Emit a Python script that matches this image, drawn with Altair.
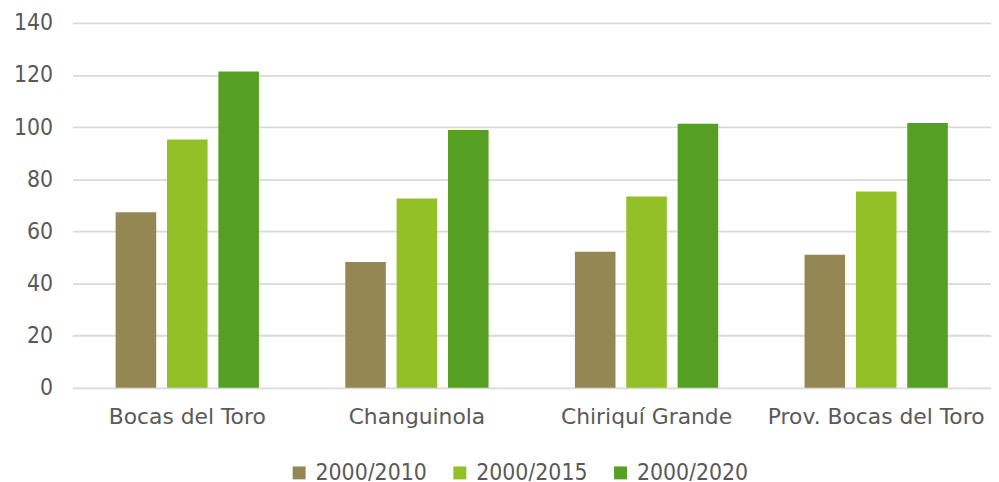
import altair as alt
import pandas as pd

categories = ["Bocas del Toro", "Changuinola", "Chiriquí Grande", "Prov. Bocas del Toro"]
series = ["2000/2010", "2000/2015", "2000/2020"]
v2010 = [67.3, 48.3, 52.2, 51.0]
v2015 = [95.2, 72.6, 73.4, 75.3]
v2020 = [121.3, 98.9, 101.3, 101.6]
colors = ["#938854", "#92C026", "#55A023"]

rows = []
for s, vals in zip(series, [v2010, v2015, v2020]):
    for c, v in zip(categories, vals):
        rows.append({"cat": c, "serie": s, "val": v})
df = pd.DataFrame(rows)

FONT = "DejaVu Sans Condensed, DejaVu Sans"
TXT = "#595959"
FS = 23

chart = alt.Chart(df).mark_bar().encode(
    x=alt.X("cat:N", sort=categories, title=None,
            scale=alt.Scale(paddingInner=0.376, paddingOuter=0.188),
            axis=alt.Axis(labelAngle=0, labelFontSize=22, labelColor=TXT, labelFont="DejaVu Sans",
                          labelPadding=19, labelLimit=0, ticks=False, domain=False, grid=False)),
    xOffset=alt.XOffset("serie:N", sort=series,
                        scale=alt.Scale(paddingInner=0.21, paddingOuter=0)),
    y=alt.Y("val:Q", title=None,
            scale=alt.Scale(domain=[0, 140], nice=False),
            axis=alt.Axis(values=[0, 20, 40, 60, 80, 100, 120, 140], labelFontSize=FS,
                          labelColor=TXT, labelFont=FONT, labelPadding=20,
                          ticks=False, domain=False, gridColor="#d9d9d9", gridWidth=1.8)),
    color=alt.Color("serie:N", sort=series, title=None,
                    scale=alt.Scale(domain=series, range=colors),
                    legend=alt.Legend(orient="none", direction="horizontal",
                                      legendX=217, legendY=442, symbolType="square",
                                      symbolSize=170, symbolStrokeWidth=0, labelFontSize=FS,
                                      labelColor=TXT, labelFont=FONT, labelOffset=5,
                                      labelLimit=0, columnPadding=21, padding=0)),
).properties(
    width=926, height=368,
    autosize=alt.AutoSizeParams(type="none"),
    padding={"left": 65, "top": 13, "right": 0, "bottom": 92},
).configure_view(stroke=None)

chart.save("out.html", embed_options={"renderer": "svg", "actions": False})
